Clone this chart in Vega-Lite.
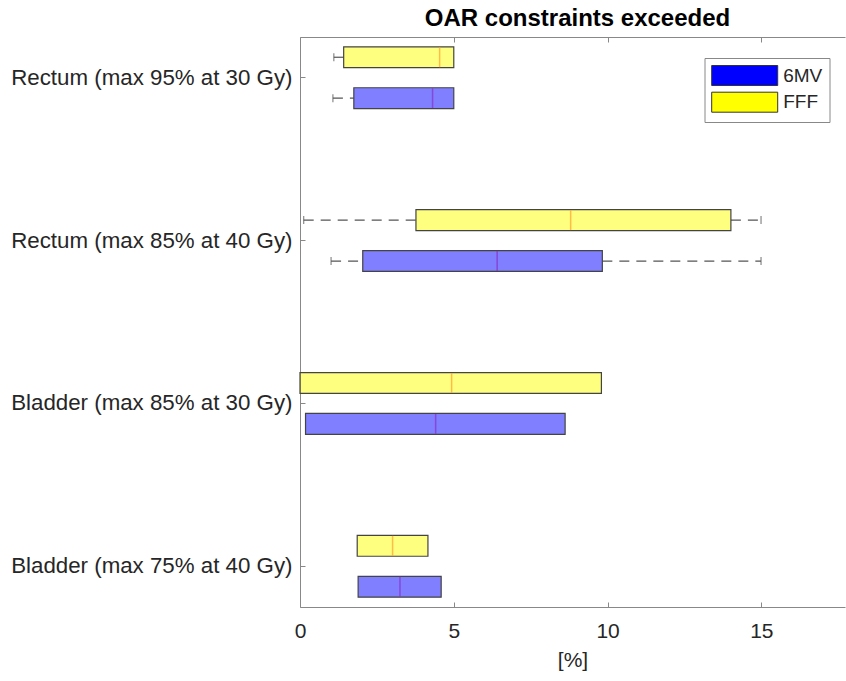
{
  "$schema": "https://vega.github.io/schema/vega-lite/v6.json",
  "width": 545,
  "height": 570,
  "autosize": {"type": "none"},
  "padding": {"left": 300, "top": 37, "right": 1, "bottom": 74},
  "background": "white",
  "config": {"view": {"stroke": null}, "font": "Liberation Sans"},
  "title": {"text": "OAR constraints exceeded", "fontSize": 24, "fontWeight": "bold", "color": "#000000", "font": "Liberation Sans", "anchor": "middle", "dx": 5, "offset": 6},
  "data": {"values": [
    {"constraint": "Rectum (max 95% at 30 Gy)", "group": "FFF", "lo": 1.10, "q1": 1.42, "median": 4.54, "q3": 5.0, "hi": 5.0},
    {"constraint": "Rectum (max 95% at 30 Gy)", "group": "6MV", "lo": 1.07, "q1": 1.75, "median": 4.31, "q3": 5.0, "hi": 5.0},
    {"constraint": "Rectum (max 85% at 40 Gy)", "group": "FFF", "lo": 0.12, "q1": 3.77, "median": 8.80, "q3": 14.01, "hi": 14.99},
    {"constraint": "Rectum (max 85% at 40 Gy)", "group": "6MV", "lo": 1.01, "q1": 2.04, "median": 6.41, "q3": 9.83, "hi": 14.99},
    {"constraint": "Bladder (max 85% at 30 Gy)", "group": "FFF", "lo": 0.0, "q1": 0.0, "median": 4.93, "q3": 9.80, "hi": 9.80},
    {"constraint": "Bladder (max 85% at 30 Gy)", "group": "6MV", "lo": 0.18, "q1": 0.18, "median": 4.41, "q3": 8.62, "hi": 8.62},
    {"constraint": "Bladder (max 75% at 40 Gy)", "group": "FFF", "lo": 1.86, "q1": 1.86, "median": 3.01, "q3": 4.16, "hi": 4.16},
    {"constraint": "Bladder (max 75% at 40 Gy)", "group": "6MV", "lo": 1.89, "q1": 1.89, "median": 3.25, "q3": 4.59, "hi": 4.59}
  ]},
  "encoding": {
    "y": {"field": "constraint", "type": "nominal",
      "sort": ["Rectum (max 95% at 30 Gy)", "Rectum (max 85% at 40 Gy)", "Bladder (max 85% at 30 Gy)", "Bladder (max 75% at 40 Gy)"],
      "scale": {"paddingInner": 0.5, "paddingOuter": 0},
      "axis": {"title": null, "orient": "left", "labelFontSize": 22.3, "labelColor": "#262626", "labelFont": "Liberation Sans", "labelPadding": 13, "tickSize": -5, "tickColor": "#888888", "domainColor": "#888888", "labelLimit": 400}},
    "yOffset": {"field": "group", "type": "nominal", "sort": ["FFF", "6MV"], "scale": {"paddingInner": 0.49, "paddingOuter": 0.24}}
  },
  "layer": [
    {
      "transform": [{"filter": "datum.lo < datum.q1"}],
      "mark": {"type": "rule", "color": "#555555", "strokeWidth": 1.2, "strokeDash": [10, 7]},
      "encoding": {
        "x": {"field": "lo", "type": "quantitative", "scale": {"domain": [0, 17.72], "nice": false, "zero": false}, "axis": null},
        "x2": {"field": "q1"}
      }
    },
    {
      "transform": [{"filter": "datum.hi > datum.q3"}],
      "mark": {"type": "rule", "color": "#555555", "strokeWidth": 1.2, "strokeDash": [10, 7]},
      "encoding": {
        "x": {"field": "q3", "type": "quantitative", "scale": {"domain": [0, 17.72], "nice": false, "zero": false}, "axis": null},
        "x2": {"field": "hi"}
      }
    },
    {
      "transform": [{"filter": "datum.lo < datum.q1"}],
      "mark": {"type": "tick", "orient": "vertical", "color": "#555555", "size": 8, "thickness": 1.2},
      "encoding": {
        "x": {"field": "lo", "type": "quantitative", "scale": {"domain": [0, 17.72], "nice": false, "zero": false}, "axis": null}
      }
    },
    {
      "transform": [{"filter": "datum.hi > datum.q3"}],
      "mark": {"type": "tick", "orient": "vertical", "color": "#555555", "size": 8, "thickness": 1.2},
      "encoding": {
        "x": {"field": "hi", "type": "quantitative", "scale": {"domain": [0, 17.72], "nice": false, "zero": false}, "axis": null}
      }
    },
    {
      "mark": {"type": "bar", "fillOpacity": 0.5, "stroke": "#444444", "strokeWidth": 1.2},
      "encoding": {
        "x": {"field": "q1", "type": "quantitative", "scale": {"domain": [0, 17.72], "nice": false, "zero": false},
          "axis": {"orient": "bottom", "values": [0, 5, 10, 15], "grid": false, "labelFlush": false, "title": "[%]", "titleFontSize": 21, "titleFontWeight": "normal", "titleColor": "#262626", "titleFont": "Liberation Sans", "titlePadding": 8, "labelFontSize": 21, "labelColor": "#262626", "labelFont": "Liberation Sans", "labelPadding": 18, "tickSize": -5, "tickColor": "#888888", "domainColor": "#888888"}},
        "x2": {"field": "q3"},
        "color": {"field": "group", "type": "nominal",
          "scale": {"domain": ["6MV", "FFF"], "range": ["#0000ff", "#ffff00"]},
          "legend": {"title": " ", "titleOrient": "left", "titleFontSize": 1, "titlePadding": 22.7, "orient": "none", "legendX": 404.5, "legendY": 21,
            "symbolType": "M-3.3,-1H3.3V1H-3.3Z", "symbolSize": 400, "symbolOpacity": 1,
            "symbolStrokeColor": "#333333", "symbolStrokeWidth": 1,
            "labelFontSize": 19, "labelColor": "#262626", "labelFont": "Liberation Sans", "labelOffset": 28,
            "rowPadding": 1.7, "padding": 7, "strokeColor": "#888888", "fillColor": "white", "cornerRadius": 0}}
      }
    },
    {
      "mark": {"type": "tick", "orient": "vertical", "size": 20, "thickness": 1.5},
      "encoding": {
        "x": {"field": "median", "type": "quantitative", "scale": {"domain": [0, 17.72], "nice": false, "zero": false},
          "axis": {"orient": "top", "values": [0, 5, 10, 15], "labels": false, "title": null, "grid": false, "tickSize": -5, "tickColor": "#888888", "domainColor": "#888888"}},
        "color": {"condition": {"test": "datum.group === 'FFF'", "value": "#ff9f30"}, "value": "#8a2fc8"}
      }
    }
  ],
  "resolve": {"axis": {"x": "independent"}}
}
